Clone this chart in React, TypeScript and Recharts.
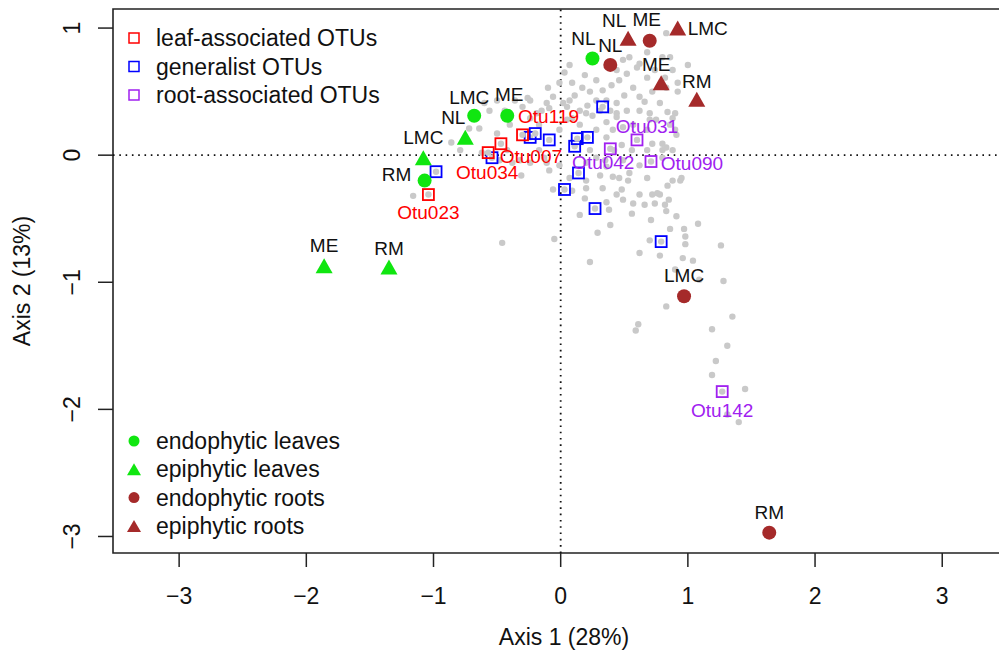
import React from "react";
import {
  ScatterChart,
  Scatter,
  XAxis,
  YAxis,
  ReferenceLine,
  ReferenceArea,
} from "recharts";

const xTicks = [-3, -2, -1, 0, 1, 2, 3];
const yTicks = [-3, -2, -1, 0, 1];
const xDomain: [number, number] = [-3.52, 3.58];
const yDomain: [number, number] = [-3.13, 1.15];

// all OTUs (grey background cloud)
const otuCloud: [number, number][] = [
  [-0.06, -0.27], [0.2, -0.26], [0.33, -0.26], [0.44, -0.31], [0.48, -0.27], [0.72, -0.31],
  [0.78, -0.31], [0.85, -0.35], [0.84, -0.24], [0.74, -0.38], [0.82, -0.39], [0.83, -0.44],
  [0.38, -0.43], [0.56, -0.46], [0.71, -0.51], [0.91, -0.48], [0.39, -0.55], [0.86, -0.58],
  [0.97, -0.58], [1.08, -0.54], [0.98, -0.64], [0.98, -0.7], [1.26, -0.71], [-0.05, -0.66],
  [0.62, -0.77], [0.96, -0.81], [1.28, -0.99], [0.83, -1.19], [1.35, -1.27], [0.61, -1.33],
  [0.59, -1.38], [1.19, -1.37], [1.31, -1.5], [1.22, -1.62], [1.19, -1.73], [1.45, -1.84],
  [1.4, -2.1], [1.31, -2.04], [0.53, -0.2], [0.88, -0.2], [0.94, -0.2], [-1.16, -0.32],
  [-0.46, -0.69], [-0.64, 0.21], [-0.86, 0.1], [-0.5, 0.17], [-0.62, 0.02], [-0.38, -0.06],
  [-0.31, -0.16], [-0.24, -0.06], [-0.09, -0.12], [-0.3, 0.38], [-0.19, 0.33], [-0.09, 0.37],
  [0.02, 0.41], [0.09, 0.29], [0.2, 0.33], [0.44, 0.33], [0.49, 0.22], [0.7, 0.28],
  [0.78, 0.41], [0.8, 0.04], [0.09, 0.57], [0.17, 0.53], [0.23, 0.5], [0.28, 0.59],
  [0.33, 0.51], [0.36, 0.43], [0.46, 0.59], [0.52, 0.64], [0.57, 0.53], [0.62, 0.46],
  [0.68, 0.61], [0.72, 0.5], [0.54, 0.77], [0.6, 0.69], [0.49, 0.75], [0.44, 0.67],
  [0.83, 0.96], [0.8, 0.77], [0.68, 0.81], [0.62, 0.72], [0.28, 0.43], [0.21, 0.39],
  [0.15, 0.35], [-0.01, 0.57], [-0.06, 0.46], [-0.11, 0.41], [0.05, 0.38], [0.44, 0.41],
  [0.52, 0.35], [0.62, 0.35], [0.7, 0.33], [0.39, 0.35], [0.83, 0.53], [0.86, 0.77],
  [0.88, 0.67], [1.0, 0.71], [0.92, 0.57], [0.92, 0.5], [0.82, 0.61], [0.84, 0.34],
  [0.9, 0.33], [0.88, 0.29], [0.86, 0.24], [0.9, 0.2], [0.91, 0.16], [0.8, 0.09],
  [0.83, 0.06], [0.88, 0.04], [0.8, -0.02], [0.95, -0.18], [0.09, -0.28], [0.2, -0.2],
  [0.54, -0.14], [0.68, -0.18], [0.76, -0.3], [0.62, -0.31], [0.41, -0.17], [0.36, -0.09],
  [0.49, -0.04], [0.56, 0.04], [0.68, 0.04], [0.72, 0.09], [0.48, 0.08], [0.36, 0.14],
  [0.41, 0.2], [0.28, 0.2], [0.36, 0.26], [0.44, 0.3], [0.57, 0.24], [0.68, 0.2],
  [0.75, 0.28], [0.05, 0.28], [-0.01, 0.2], [0.25, 0.31], [-0.11, -0.06], [-0.13, -0.02],
  [-0.01, -0.08], [0.2, -0.06], [0.28, -0.02], [0.49, -0.35], [0.36, -0.37], [0.57, -0.38],
  [-0.6, 0.41], [-0.5, 0.43], [-0.56, 0.35], [-0.72, 0.21], [-0.4, 0.24], [-0.17, 0.24],
  [-0.26, 0.45], [-0.42, 0.04], [-0.17, 0.04], [0.23, -0.84], [0.15, -0.47], [0.29, -0.61],
  [-0.24, 0.43], [0.03, 0.65], [0.07, 0.71],
  [0.11, 0.47], [0.19, 0.63], [0.4, 0.55], [0.5, 0.47], [0.66, 0.42], [0.74, 0.67],
  [0.31, 0.35], [0.07, 0.43], [-0.1, 0.53], [-0.15, 0.35], [-0.24, 0.29], [-0.36, 0.43],
  [-0.44, 0.35], [0.15, 0.24], [0.23, 0.04], [0.35, -0.04], [0.42, 0.04], [0.62, -0.08],
  [0.31, -0.16], [0.46, -0.18], [0.07, -0.18], [0.19, -0.34], [0.66, -0.39], [1.04, -0.83],
  [1.09, -0.98], [0.7, -0.67], [0.9, -0.9], [0.78, -0.79], [-0.79, 0.04], [-0.48, -0.04],
  [-0.32, -0.04],
];

const leafOtus = [
  { otu: "Otu023", x: -1.04, y: -0.31 },
  { otu: "Otu007", x: -0.47, y: 0.09 },
  { otu: "Otu034", x: -0.57, y: 0.02 },
  { otu: "Otu119", x: -0.3, y: 0.16 },
];

const generalistOtus = [
  { x: -0.98, y: -0.13 }, { x: -0.54, y: -0.02 }, { x: -0.24, y: 0.14 }, { x: -0.2, y: 0.17 },
  { x: -0.09, y: 0.12 }, { x: 0.11, y: 0.07 }, { x: 0.13, y: 0.13 }, { x: 0.21, y: 0.14 },
  { x: 0.33, y: 0.38 }, { x: 0.14, y: -0.14 }, { x: 0.03, y: -0.27 }, { x: 0.27, y: -0.42 },
  { x: 0.79, y: -0.68 },
];

const rootOtus = [
  { otu: "Otu031", x: 0.6, y: 0.12 },
  { otu: "Otu042", x: 0.39, y: 0.05 },
  { otu: "Otu090", x: 0.71, y: -0.05 },
  { otu: "Otu142", x: 1.27, y: -1.86 },
];

const endophyticLeaves = [
  { site: "NL", x: 0.25, y: 0.76 },
  { site: "LMC", x: -0.68, y: 0.31 },
  { site: "ME", x: -0.42, y: 0.31 },
  { site: "RM", x: -1.07, y: -0.2 },
];

const epiphyticLeaves = [
  { site: "NL", x: -0.75, y: 0.14 },
  { site: "LMC", x: -1.08, y: -0.02 },
  { site: "ME", x: -1.86, y: -0.87 },
  { site: "RM", x: -1.35, y: -0.88 },
];

const endophyticRoots = [
  { site: "NL", x: 0.39, y: 0.71 },
  { site: "ME", x: 0.7, y: 0.9 },
  { site: "LMC", x: 0.97, y: -1.11 },
  { site: "RM", x: 1.64, y: -2.97 },
];

const epiphyticRoots = [
  { site: "NL", x: 0.53, y: 0.92 },
  { site: "LMC", x: 0.92, y: 1.0 },
  { site: "ME", x: 0.79, y: 0.57 },
  { site: "RM", x: 1.07, y: 0.44 },
];

const otuLegend = [
  { label: "leaf-associated OTUs", color: "#ff0000" },
  { label: "generalist OTUs", color: "#0000ff" },
  { label: "root-associated OTUs", color: "#a020f0" },
];

const sampleLegend = [
  { label: "endophytic leaves", color: "#10e610", shape: "circle" },
  { label: "epiphytic leaves", color: "#10e610", shape: "triangle" },
  { label: "endophytic roots", color: "#a52a2a", shape: "circle" },
  { label: "epiphytic roots", color: "#a52a2a", shape: "triangle" },
];

// text placement of point labels, pixels relative to the point
const labelOffset: Record<string, [number, number]> = {
  "eL:NL": [-9, -20], "eL:LMC": [-5, -18], "eL:ME": [2, -21], "eL:RM": [-28, -6],
  "pL:NL": [-12, -20], "pL:LMC": [0, -20], "pL:ME": [0, -20], "pL:RM": [0, -19],
  "eR:NL": [0, -19], "eR:ME": [-3, -21], "eR:LMC": [0, -21], "eR:RM": [0, -20],
  "pR:NL": [-14, -18], "pR:LMC": [30, 0], "pR:ME": [-5, -18], "pR:RM": [0, -18],
  "leaf:Otu023": [0, 18], "leaf:Otu007": [30, 13], "leaf:Otu034": [-1, 20], "leaf:Otu119": [26, -18],
  "root:Otu031": [10, -13], "root:Otu042": [-7, 14], "root:Otu090": [41, 2], "root:Otu142": [0, 19],
};

const GREY = "#c9c9c9";
const FONT = "'Liberation Sans', Arial, Helvetica, sans-serif";

const fmt = (v: number) => (v < 0 ? `\u2212${Math.abs(v)}` : `${v}`);

function triPath(cx: number, cy: number, w: number, h: number) {
  return `M${cx},${cy - h / 2}L${cx + w / 2},${cy + h / 2}L${cx - w / 2},${cy + h / 2}Z`;
}

function makeShape(kind: string, color: string, group: string, textColor: string) {
  return (props: any) => {
    const { cx, cy, payload } = props;
    if (cx == null || cy == null) return <g />;
    let mark: React.ReactNode = null;
    if (kind === "dot") mark = <circle cx={cx} cy={cy} r={3.2} fill={GREY} />;
    if (kind === "circle") mark = <circle cx={cx} cy={cy} r={7} fill={color} />;
    if (kind === "triangle") mark = <path d={triPath(cx, cy, 17, 15)} fill={color} />;
    if (kind === "square")
      mark = (
        <g>
          <circle cx={cx} cy={cy} r={3.2} fill={GREY} />
          <rect x={cx - 5.5} y={cy - 5.5} width={11} height={11} fill="none" stroke={color} strokeWidth={1.8} />
        </g>
      );
    const lab = payload?.site ?? payload?.otu;
    const off = lab ? labelOffset[`${group}:${lab}`] : undefined;
    return (
      <g>
        {mark}
        {lab && off && (
          <text
            x={cx + off[0]}
            y={cy + off[1]}
            textAnchor="middle"
            dominantBaseline="central"
            fontSize={19}
            fontFamily={FONT}
            fill={textColor}
          >
            {lab}
          </text>
        )}
      </g>
    );
  };
}

const YTick = (props: any) => {
  const { y, payload } = props;
  return (
    <text
      transform={`translate(80,${y}) rotate(-90)`}
      textAnchor="middle"
      fontSize={23}
      fontFamily={FONT}
      fill="#111"
    >
      {fmt(payload.value)}
    </text>
  );
};

export default function App() {
  const cloud = otuCloud.map(([x, y]) => ({ x, y }));
  return (
    <div
      style={{
        position: "absolute",
        left: 0,
        top: 0,
        width: 999,
        height: 657,
        overflow: "hidden",
        background: "#fff",
        fontFamily: FONT,
      }}
    >
      <ScatterChart width={1025} height={657} margin={{ top: 9, right: 9, bottom: 0, left: 0 }}>
        <XAxis
          type="number"
          dataKey="x"
          domain={xDomain}
          ticks={xTicks}
          allowDataOverflow
          axisLine={false}
          tickSize={14}
          tickMargin={21}
          tickLine={{ stroke: "#222", strokeWidth: 1.5 }}
          tick={{ fontSize: 23, fill: "#111", fontFamily: FONT }}
          tickFormatter={fmt}
          height={104}
        />
        <YAxis
          type="number"
          dataKey="y"
          domain={yDomain}
          ticks={yTicks}
          allowDataOverflow
          axisLine={false}
          tickSize={15}
          tickLine={{ stroke: "#222", strokeWidth: 1.5 }}
          tick={<YTick />}
          width={113}
        />
        <ReferenceArea
          x1={xDomain[0]}
          x2={xDomain[1]}
          y1={yDomain[0]}
          y2={yDomain[1]}
          fill="none"
          stroke="#222"
          strokeWidth={1.6}
        />
        <ReferenceLine x={0} stroke="#111" strokeWidth={1.8} strokeDasharray="1.6 4.7" />
        <ReferenceLine y={0} stroke="#111" strokeWidth={1.8} strokeDasharray="1.6 4.7" />
        <Scatter data={cloud} isAnimationActive={false} shape={makeShape("dot", GREY, "bg", "#111")} />
        <Scatter data={generalistOtus} isAnimationActive={false} shape={makeShape("square", "#0000ff", "gen", "#0000ff")} />
        <Scatter data={leafOtus} isAnimationActive={false} shape={makeShape("square", "#ff0000", "leaf", "#ff0000")} />
        <Scatter data={rootOtus} isAnimationActive={false} shape={makeShape("square", "#a020f0", "root", "#a020f0")} />
        <Scatter data={endophyticLeaves} isAnimationActive={false} shape={makeShape("circle", "#10e610", "eL", "#111")} />
        <Scatter data={epiphyticLeaves} isAnimationActive={false} shape={makeShape("triangle", "#10e610", "pL", "#111")} />
        <Scatter data={endophyticRoots} isAnimationActive={false} shape={makeShape("circle", "#a52a2a", "eR", "#111")} />
        <Scatter data={epiphyticRoots} isAnimationActive={false} shape={makeShape("triangle", "#a52a2a", "pR", "#111")} />
      </ScatterChart>

      <svg
        width={999}
        height={657}
        style={{ position: "absolute", left: 0, top: 0, pointerEvents: "none" }}
        fontFamily={FONT}
      >
        <text x={564} y={645} textAnchor="middle" fontSize={23} fill="#111">
          Axis 1 (28%)
        </text>
        <text transform="translate(30,281) rotate(-90)" textAnchor="middle" fontSize={23} fill="#111">
          Axis 2 (13%)
        </text>
        {otuLegend.map((d, i) => {
          const cy = 38 + i * 28.5;
          return (
            <g key={d.label}>
              <rect x={129} y={cy - 5} width={10} height={10} fill="none" stroke={d.color} strokeWidth={1.5} />
              <text x={156} y={cy + 8} fontSize={23} fill="#111">
                {d.label}
              </text>
            </g>
          );
        })}
        {sampleLegend.map((d, i) => {
          const cy = 441 + i * 28.3;
          return (
            <g key={d.label}>
              {d.shape === "circle" ? (
                <circle cx={134} cy={cy} r={5.5} fill={d.color} />
              ) : (
                <path d={triPath(134, cy, 14, 12)} fill={d.color} />
              )}
              <text x={156} y={cy + 8} fontSize={23} fill="#111">
                {d.label}
              </text>
            </g>
          );
        })}
      </svg>
    </div>
  );
}
